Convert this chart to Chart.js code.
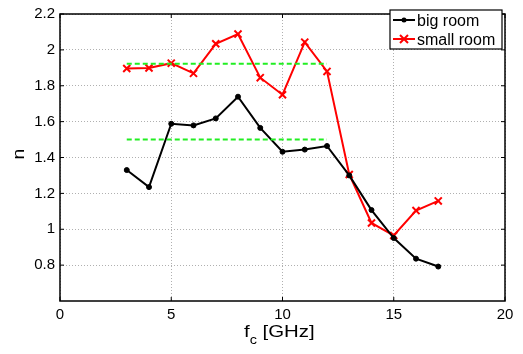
<!DOCTYPE html>
<html>
  <head>
    <title>n vs fc</title>
    <script src="https://cdn.jsdelivr.net/npm/chart.js"></script>
    <style>
      body { margin: 0; background: #fff; }
    </style>
  </head>

  <body>
    <canvas id="myChart" width="523" height="354"></canvas>

    <script>
      // frequencies (GHz)
      var freqs = [3, 4, 5, 6, 7, 8, 9, 10, 11, 12, 13, 14, 15, 16, 17];
      var bigRoom = [1.33, 1.235, 1.588, 1.579, 1.618, 1.739, 1.565, 1.432, 1.444, 1.464, 1.30, 1.107, 0.951, 0.836, 0.792];
      var smallRoom = [1.896, 1.899, 1.926, 1.869, 2.034, 2.088, 1.845, 1.75, 2.043, 1.88, 1.305, 1.035, 0.965, 1.104, 1.158];
      // green dashed mean lines
      var meanX = [3, 12];
      var meanSmall = 1.923;
      var meanBig = 1.5;
      var xTicks = [0, 5, 10, 15, 20];
      var yTicks = [0.8, 1, 1.2, 1.4, 1.6, 1.8, 2, 2.2];

      var font = "'Liberation Sans', Arial, sans-serif";

      function pts(xs, ys) {
        return xs.map(function (x, i) { return { x: x, y: ys[i] }; });
      }

      // box, inner ticks, axis labels and legend
      var decor = {
        id: "decor",
        afterDraw: function (chart) {
          var c = chart.ctx;
          var a = chart.chartArea;
          var xs = chart.scales.x, ys = chart.scales.y;
          c.save();
          c.strokeStyle = "#000";
          c.lineWidth = 1.5;
          c.strokeRect(a.left, a.top, a.right - a.left, a.bottom - a.top);
          c.lineWidth = 1;
          c.beginPath();
          xTicks.forEach(function (t) {
            var p = xs.getPixelForValue(t);
            c.moveTo(p, a.bottom); c.lineTo(p, a.bottom - 4);
            c.moveTo(p, a.top); c.lineTo(p, a.top + 4);
          });
          yTicks.forEach(function (t) {
            var p = ys.getPixelForValue(t);
            c.moveTo(a.left, p); c.lineTo(a.left + 4, p);
            c.moveTo(a.right, p); c.lineTo(a.right - 4, p);
          });
          c.stroke();

          // axis labels (slightly wide, like the original)
          c.fillStyle = "#000";
          c.textBaseline = "alphabetic";
          c.textAlign = "left";
          c.save();
          c.translate(244, 337);
          c.scale(1.2, 1);
          c.font = "17px " + font;
          c.fillText("f", 0, 0);
          var fw = c.measureText("f").width;
          c.font = "12px " + font;
          c.fillText("c", fw, 7);
          var cw = c.measureText("c").width;
          c.font = "17px " + font;
          c.fillText(" [GHz]", fw + cw, 0);
          c.restore();

          c.save();
          c.translate(24, 154);
          c.rotate(-Math.PI / 2);
          c.scale(1.15, 1);
          c.textAlign = "center";
          c.font = "17px " + font;
          c.fillText("n", 0, 0);
          c.restore();

          // legend
          var bx = 390, by = 10, bw = 112, bh = 39;
          c.fillStyle = "#fff";
          c.fillRect(bx, by, bw, bh);
          c.strokeStyle = "#000";
          c.lineWidth = 1.2;
          c.strokeRect(bx, by, bw, bh);
          c.font = "16px " + font;
          c.textAlign = "left";
          var rows = [
            { label: "big room", color: "#000", y: 20, mark: "dot" },
            { label: "small room", color: "#ff0000", y: 39, mark: "x" }
          ];
          rows.forEach(function (r) {
            c.strokeStyle = r.color;
            c.fillStyle = r.color;
            c.lineWidth = 2;
            c.beginPath();
            c.moveTo(393, r.y); c.lineTo(415, r.y);
            c.stroke();
            if (r.mark === "dot") {
              c.beginPath();
              c.arc(404, r.y, 2.5, 0, Math.PI * 2);
              c.fill();
            } else {
              c.beginPath();
              c.moveTo(400, r.y - 4); c.lineTo(408, r.y + 4);
              c.moveTo(400, r.y + 4); c.lineTo(408, r.y - 4);
              c.stroke();
            }
            c.fillStyle = "#000";
            c.fillText(r.label, 417, r.y + 6);
          });
          c.restore();
        }
      };

      var ctx = document.getElementById("myChart").getContext("2d");
      var chart = new Chart(ctx, {
        type: "line",
        data: {
          datasets: [
            {
              label: "mean small",
              data: pts(meanX, [meanSmall, meanSmall]),
              borderColor: "#22ee22",
              borderWidth: 2,
              borderDash: [5, 3],
              pointRadius: 0,
            },
            {
              label: "mean big",
              data: pts(meanX, [meanBig, meanBig]),
              borderColor: "#22ee22",
              borderWidth: 2,
              borderDash: [5, 3],
              pointRadius: 0,
            },
            {
              label: "big room",
              data: pts(freqs, bigRoom),
              borderColor: "#000",
              backgroundColor: "#000",
              borderWidth: 2,
              pointStyle: "circle",
              pointRadius: 2.5,
              pointBorderWidth: 1,
            },
            {
              label: "small room",
              data: pts(freqs, smallRoom),
              borderColor: "#ff0000",
              backgroundColor: "#ff0000",
              borderWidth: 2,
              pointStyle: "crossRot",
              pointRadius: 5,
              pointBorderWidth: 2,
            },
          ],
        },
        options: {
          responsive: false,
          animation: false,
          layout: { padding: { left: 0, right: 18, top: 6, bottom: 0 } },
          plugins: { legend: { display: false }, tooltip: { enabled: false } },
          scales: {
            x: {
              type: "linear",
              min: 0,
              max: 20,
              afterFit: function (s) { s.height = 53; },
              afterBuildTicks: function (s) {
                s.ticks = xTicks.map(function (v) { return { value: v }; });
              },
              grid: { color: "#b0b0b0", drawTicks: false, lineWidth: 1 },
              border: { display: false, dash: [1, 2] },
              ticks: {
                color: "#000",
                padding: 5,
                maxRotation: 0,
                font: { family: font, size: 15 },
              },
            },
            y: {
              min: 0.6,
              max: 2.2,
              afterFit: function (s) { s.width = 60; },
              afterBuildTicks: function (s) {
                s.ticks = yTicks.map(function (v) { return { value: v }; });
              },
              grid: { color: "#b0b0b0", drawTicks: false, lineWidth: 1 },
              border: { display: false, dash: [1, 2] },
              ticks: {
                color: "#000",
                padding: 5,
                font: { family: font, size: 15 },
                callback: function (v) { return String(parseFloat(v.toFixed(1))); },
              },
            },
          },
        },
        plugins: [decor],
      });
    </script>
  </body>
</html>
